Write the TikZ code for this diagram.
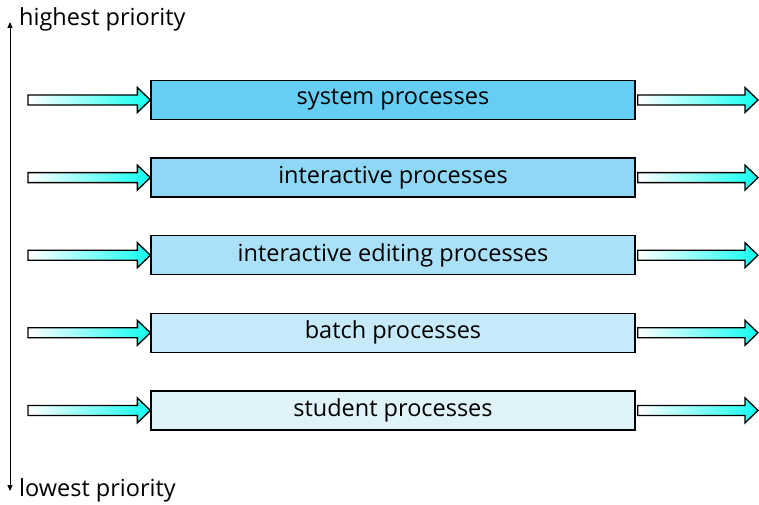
\documentclass[tikz,border=0pt]{standalone}
\usepackage{fontspec}
\setmainfont{Open Sans}
\usetikzlibrary{calc,arrows.meta}
\definecolor{procA}{RGB}{102,206,244}
\definecolor{procB}{RGB}{142,216,246}
\definecolor{procC}{RGB}{170,224,248}
\definecolor{procD}{RGB}{198,234,249}
\definecolor{procE}{RGB}{224,243,251}
\definecolor{flowcyan}{RGB}{16,255,240}
\tikzset{
	procbox/.style={draw, line width=1.3pt, minimum width=484pt, minimum height=39pt, inner sep=0pt, font=\fontsize{23.5}{27}\selectfont},
	flowarrow/.style={draw, line width=1.3pt, left color=white, right color=flowcyan},
	prio/.style={anchor=west, inner sep=0pt, font=\fontsize{23.5}{27}\selectfont}
}
\newcommand{\flowto}[2]{%
	\path[flowarrow] ($(#1)+(0,5)$) -- ($(#2)+(-13,5)$) -- ($(#2)+(-13,12.5)$) -- (#2)
		-- ($(#2)+(-13,-12.5)$) -- ($(#2)+(-13,-5)$) -- ($(#1)+(0,-5)$) -- cycle;}

\begin{document}
\begin{tikzpicture}[x=1pt,y=1pt]
	\useasboundingbox (0,0) rectangle (759,-505);
	% priority axis
	\coordinate (top) at (10,-22);
	\coordinate (bottom) at (10,-491);
	\draw[line width=1pt, {Triangle[length=6pt,width=5pt]}-{Triangle[length=6pt,width=5pt]}] (top) -- (bottom);
	\node[prio] (high) at (19,-19) {highest priority};
	\node[prio] (low) at (19,-490) {lowest priority};
	% queues
	\foreach \name/\col/\txt [count=\i from 0] in {sys/procA/system processes, inter/procB/interactive processes, edit/procC/interactive editing processes, batch/procD/batch processes, stud/procE/student processes}{
		\node[procbox, fill=\col] (\name) at (393,{-100-77.6*\i}) {\txt};
		\coordinate (\name in) at (28,{-100-77.6*\i});
		\coordinate (\name out) at (758,{-100-77.6*\i});
		\flowto{\name in}{\name.west}
		\flowto{$(\name.east)+(2,0)$}{\name out}
	}
\end{tikzpicture}
\end{document}
